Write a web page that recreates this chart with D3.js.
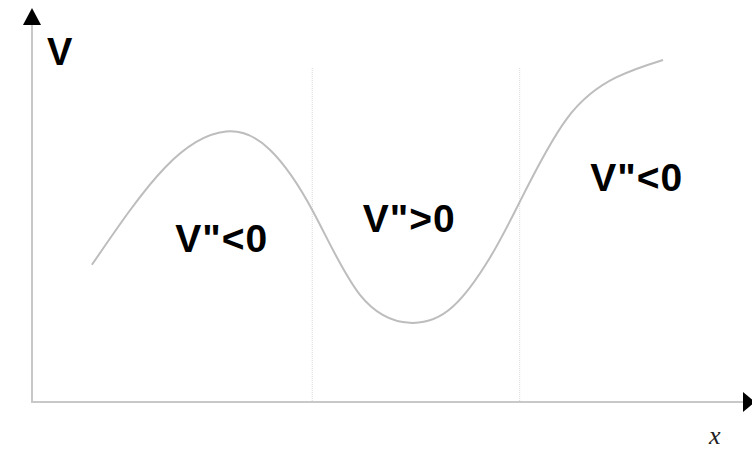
<!DOCTYPE html>
<html>
<head>
<meta charset="utf-8">
<script src="https://cdn.jsdelivr.net/npm/d3@7/dist/d3.min.js"></script>
<style>
  html, body { margin: 0; padding: 0; background: #fff; }
  svg { display: block; }
</style>
</head>
<body>
<script>
// Potential V along x (arbitrary units, 0..100 on both axes)
const xs = [8.4, 18.7, 27.2, 33.4, 39.4, 46.0, 53.0, 59.0, 64.2, 68.4, 75.0, 82.0, 88.5];
const vs = [34.3, 58.7, 67.6, 63.0, 47.7, 26.8, 19.8, 23.8, 36.0, 50.0, 70.8, 81.2, 85.5];

// Inflection points separating the curvature regions
const inflections = [39.3, 68.4];
const dividerTop = 83.5;

// Region labels: text and left/baseline position (data units)
const regionText = ["V\"<0", "V\">0", "V\"<0"];
const regionX = [20.1, 46.4, 78.3];
const regionY = [37.5, 42.5, 52.8];

const W = 752, H = 449;
const svg = d3.select("body").append("svg").attr("width", W).attr("height", H);

const x = d3.scaleLinear().domain([0, 100]).range([32, 745]);
const y = d3.scaleLinear().domain([0, 100]).range([402, 2]);

// dotted dividers
svg.append("g").selectAll("line").data(inflections).join("line")
  .attr("x1", d => x(d)).attr("x2", d => x(d))
  .attr("y1", y(dividerTop)).attr("y2", y(0))
  .attr("stroke", "#d8d8d8").attr("stroke-width", 1)
  .attr("stroke-dasharray", "1,1");

// axes
const axisColor = "#c8c8c8";
svg.append("line").attr("x1", x(0)).attr("x2", 745).attr("y1", y(0)).attr("y2", y(0))
  .attr("stroke", axisColor).attr("stroke-width", 2);
svg.append("line").attr("x1", x(0)).attr("x2", x(0)).attr("y1", y(0) + 1).attr("y2", 22)
  .attr("stroke", axisColor).attr("stroke-width", 2);

// arrowheads
svg.append("path")
  .attr("d", `M${x(0)},8 L${x(0) - 9},25 L${x(0) + 9},25 Z`)
  .attr("fill", "#000");
svg.append("path")
  .attr("d", `M755,${y(0)} L743,${y(0) - 10} L743,${y(0) + 10} Z`)
  .attr("fill", "#000");

// curve
const pts = xs.map((d, i) => [d, vs[i]]);
svg.append("path")
  .datum(pts)
  .attr("fill", "none")
  .attr("stroke", "#bdbdbd")
  .attr("stroke-width", 2)
  .attr("d", d3.line().x(d => x(d[0])).y(d => y(d[1])).curve(d3.curveNatural));

// region labels
svg.append("g").selectAll("text").data(regionText).join("text")
  .attr("x", (d, i) => x(regionX[i]))
  .attr("y", (d, i) => y(regionY[i]))
  .attr("text-anchor", "start")
  .attr("font-family", "Liberation Sans, Arial, sans-serif")
  .attr("font-weight", "bold")
  .attr("font-size", 39)
  .attr("letter-spacing", 1)
  .attr("fill", "#000")
  .text(d => d);

// axis titles
svg.append("text").attr("x", 47).attr("y", 65)
  .attr("font-family", "Liberation Sans, Arial, sans-serif")
  .attr("font-weight", "bold").attr("font-size", 38).attr("fill", "#000")
  .text("V");
svg.append("text").attr("x", 709).attr("y", 444)
  .attr("font-family", "Liberation Serif, Times New Roman, serif")
  .attr("font-style", "italic").attr("font-size", 26).attr("fill", "#222")
  .text("x");
</script>
</body>
</html>
